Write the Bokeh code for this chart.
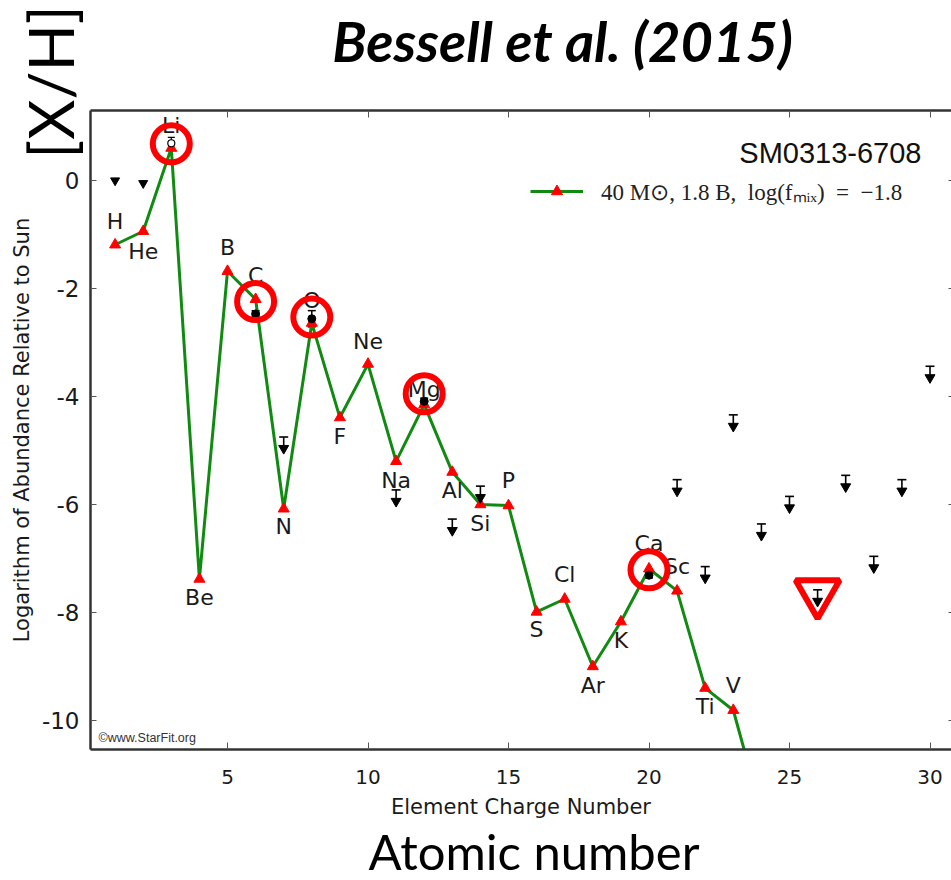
import math
from bokeh.plotting import figure
from bokeh.models import (Range1d, FixedTicker, LinearAxis, Label, ColumnDataSource,
                          Whisker, TeeHead, Legend, LegendItem, CustomJSTickFormatter,
                          BoxAnnotation)
from bokeh.core.properties import value
from bokeh.embed import file_html
from bokeh.resources import INLINE

# ---------------- data ----------------
elements = ["H", "He", "Li", "Be", "B", "C", "N", "O", "F", "Ne", "Na", "Mg",
            "Al", "Si", "P", "S", "Cl", "Ar", "K", "Ca", "Sc", "Ti", "V", "Cr"]
charge = list(range(1, 25))
model_abund = [-1.19, -0.94, 0.60, -7.38, -1.68, -2.20, -6.08, -2.64, -4.39, -3.40,
               -5.20, -4.15, -5.40, -6.00, -6.02, -7.99, -7.75, -9.00, -8.17, -7.19,
               -7.60, -9.40, -9.81, -11.70]

obs_z = [6, 8, 12, 20]
obs_y = [-2.47, -2.56, -4.09, -7.31]
obs_err = [0.06, 0.15, 0.06, 0.05]

li_z = [3]
li_y = [0.69]
li_err = [0.11]

limit_z = [7, 11, 13, 14, 21, 22, 23, 24, 25, 26, 27, 28, 29, 30]
limit_y = [-4.75, -5.73, -6.27, -5.66, -5.54, -7.15, -4.34, -6.36, -5.85, -7.58,
           -5.46, -6.96, -5.54, -3.44]

head_z = [1, 2]
head_y = [0.0, -0.05]

circled_z = [3, 6, 8, 12, 20]
circled_y = [0.68, -2.24, -2.53, -3.95, -7.21]
flag_z = [26]
flag_y = [-7.64]

x_ticks = [5, 10, 15, 20, 25, 30]
y_ticks = [-10, -8, -6, -4, -2, 0]

# label vertical offsets in screen pixels (style)
label_dy = [-23, 20, -23, 18, -24, -24, 18, -23, 19, -23, 19, -15,
            18, 19, -25, 18, -25, 19, 19, -25, -24, 18, -25, 18]

# ---------------- layout helpers (pixel -> data) ----------------
W, H = 951, 880
XPX0, XS = 86.5, 28.1   # pixel of x=0, pixels per unit
YPX0, YS = 180.0, 54.0  # pixel of y=0, pixels per unit
BOX_L, BOX_R, BOX_T, BOX_B = 90, 952.5, 110, 749
BASE_SHIFT = 0.355      # label anchor sits this many em above the baseline


def dx(px):
    return (px - XPX0) / XS


def dy(py):
    return (YPX0 - py) / YS


GREEN = "#118a11"
AXC = "#333333"
TXT = "#1a1a1a"
TICKC = "#555555"

p = figure(width=W, height=H, output_backend="svg", toolbar_location=None,
           x_range=Range1d(dx(0), dx(W)), y_range=Range1d(dy(H), dy(0)),
           min_border=0, min_border_left=0, min_border_right=0,
           min_border_top=0, min_border_bottom=0,
           background_fill_color="white", border_fill_color="white")
p.grid.visible = False
p.outline_line_color = None

int_fmt = CustomJSTickFormatter(code="return tick.toFixed(0)")
blank_fmt = CustomJSTickFormatter(code="return ''")

xa = p.xaxis[0]
xa.fixed_location = dy(BOX_B)
xa.bounds = (dx(BOX_L), dx(BOX_R))
xa.ticker = FixedTicker(ticks=x_ticks)
xa.formatter = int_fmt
xa.major_tick_in = 7
xa.major_tick_out = 0
xa.minor_tick_line_color = None
xa.major_tick_line_color = TICKC
xa.axis_line_color = AXC
xa.axis_line_width = 2.5
xa.major_label_text_font = "DejaVu Sans"
xa.major_label_text_font_size = "20px"
xa.major_label_text_color = TXT
xa.major_label_standoff = 20
xa.axis_label = "Element Charge Number"
xa.axis_label_text_font = "DejaVu Sans"
xa.axis_label_text_font_size = "21px"
xa.axis_label_text_font_style = "normal"
xa.axis_label_text_color = TXT
xa.axis_label_standoff = 8

ya = p.yaxis[0]
ya.fixed_location = dx(BOX_L)
ya.bounds = (dy(BOX_B), dy(BOX_T))
ya.ticker = FixedTicker(ticks=y_ticks)
ya.formatter = int_fmt
ya.major_tick_in = 6
ya.major_tick_out = 0
ya.minor_tick_line_color = None
ya.major_tick_line_color = TICKC
ya.axis_line_color = AXC
ya.axis_line_width = 2.5
ya.major_label_text_font = "DejaVu Sans"
ya.major_label_text_font_size = "23px"
ya.major_label_text_color = TXT
ya.major_label_standoff = 11
ya.axis_label = "Logarithm of Abundance Relative to Sun"
ya.axis_label_text_font = "DejaVu Sans"
ya.axis_label_text_font_size = "21px"
ya.axis_label_text_font_style = "normal"
ya.axis_label_text_color = TXT
ya.axis_label_standoff = 5

top = LinearAxis(fixed_location=dy(BOX_T), bounds=(dx(BOX_L), dx(BOX_R)),
                 ticker=FixedTicker(ticks=x_ticks), major_tick_in=7, major_tick_out=0,
                 minor_tick_line_color=None, major_tick_line_color=TICKC,
                 axis_line_color=AXC, axis_line_width=2.5, formatter=blank_fmt)
p.add_layout(top, "above")
right = LinearAxis(fixed_location=dx(BOX_R), bounds=(dy(BOX_B), dy(BOX_T)),
                   ticker=FixedTicker(ticks=y_ticks), major_tick_in=5, major_tick_out=0,
                   minor_tick_line_color=None, major_tick_line_color=TICKC,
                   axis_line_color=None, formatter=blank_fmt)
p.add_layout(right, "right")

# ---------------- model ----------------
src = ColumnDataSource(dict(z=charge, a=model_abund, el=elements, dy=label_dy))
line_r = p.line("z", "a", source=src, line_color=GREEN, line_width=3)
tri_r = p.scatter("z", "a", source=src, marker="triangle", size=11,
                  fill_color="#ff0000", line_color="#ff0000")

# ---------------- observations ----------------
osrc = ColumnDataSource(dict(z=obs_z, y=obs_y,
                             lo=[v - e for v, e in zip(obs_y, obs_err)],
                             hi=[v + e for v, e in zip(obs_y, obs_err)]))
p.add_layout(Whisker(source=osrc, base="z", lower="lo", upper="hi", dimension="height",
                     line_width=1.5, line_color="black",
                     upper_head=TeeHead(size=8, line_width=1.5, line_color="black"),
                     lower_head=TeeHead(size=8, line_width=1.5, line_color="black")))
p.scatter("z", "y", source=osrc, marker="circle", size=8,
          fill_color="black", line_color="black")

lisrc = ColumnDataSource(dict(z=li_z, y=li_y,
                              lo=[v - e for v, e in zip(li_y, li_err)],
                              hi=[v + e for v, e in zip(li_y, li_err)]))
p.add_layout(Whisker(source=lisrc, base="z", lower="lo", upper="hi", dimension="height",
                     line_width=1.2, line_color="black",
                     upper_head=TeeHead(size=7, line_width=1.2, line_color="black"),
                     lower_head=TeeHead(size=7, line_width=1.2, line_color="black")))
p.scatter("z", "y", source=lisrc, marker="circle", size=7,
          fill_color="white", line_color="black", line_width=1.2)

# ---------------- upper limits ----------------
lsrc = ColumnDataSource(dict(z=limit_z, y=limit_y,
                             ys=[v - 0.17 for v in limit_y],
                             yh=[v - 0.21 for v in limit_y]))
p.segment(x0="z", y0="y", x1="z", y1="ys", source=lsrc, line_color="black", line_width=1.6)
p.scatter("z", "y", source=lsrc, marker="dash", size=9, line_color="black", line_width=1.6)
p.scatter("z", "yh", source=lsrc, marker="inverted_triangle", size=10,
          fill_color="black", line_color="black")
p.scatter(head_z, head_y, marker="inverted_triangle", size=9,
          fill_color="black", line_color="black")

# ---------------- element labels ----------------
p.text("z", "a", text="el", source=src, y_offset="dy", text_align="center",
       text_baseline="middle", text_font=value("DejaVu Sans"), text_font_size="22px",
       text_color=TXT)

# ---------------- red highlights ----------------
p.scatter(circled_z, circled_y, marker="circle", size=37, fill_color=None,
          line_color="#ff0000", line_width=6)
p.scatter(flag_z, flag_y, marker="inverted_triangle", size=44, fill_color=None,
          line_color="#ff0000", line_width=6)

# white mask below the plot box (clips the model line at the bottom spine)
p.add_layout(BoxAnnotation(top=dy(BOX_B), fill_color="white", fill_alpha=1.0,
                           line_color=None, level="glyph"))

# ---------------- legend ----------------
legend = Legend(items=[LegendItem(label="40 M\u2299, 1.8 B,  log(f\u2098\u1d62\u2093)  =  \u22121.8",
                                  renderers=[line_r, tri_r])],
                location=(530, H - 207), padding=0, margin=0, spacing=0,
                border_line_color=None, background_fill_alpha=0,
                glyph_width=53, glyph_height=28, label_standoff=18,
                label_text_font="Liberation Serif", label_text_font_size="23px",
                label_text_color="#222222")
p.add_layout(legend)


# ---------------- texts ----------------
def base_y(py, fs):
    return dy(py - BASE_SHIFT * fs)


p.add_layout(Label(x=dx(921), y=base_y(163, 29), text="SM0313-6708", text_align="right",
                   text_baseline="alphabetic", text_font="Liberation Sans",
                   text_font_size="29px", text_color="#111111"))
p.add_layout(Label(x=dx(98), y=base_y(742, 12.5), text="\u00a9www.StarFit.org",
                   text_align="left", text_baseline="alphabetic",
                   text_font="Liberation Sans", text_font_size="12.5px",
                   text_color="#333333"))
p.add_layout(Label(x=dx(562), y=base_y(60, 56), text="Bessell et al. (2015)",
                   text_align="center", text_baseline="alphabetic", text_font="Lato",
                   text_font_style="bold italic", text_font_size="56px",
                   text_color="black"))
p.add_layout(Label(x=dx(533.5), y=base_y(868, 49), text="Atomic number",
                   text_align="center", text_baseline="alphabetic", text_font="Lato",
                   text_font_size="49px", text_color="black"))
p.add_layout(Label(x=dx(72 - BASE_SHIFT * 62), y=dy(81.5), text="[X/H]",
                   angle=math.pi / 2, text_align="center", text_baseline="alphabetic",
                   text_font="Lato", text_font_size="62px", text_color="black"))

open("out.html", "w").write(file_html(p, INLINE))
